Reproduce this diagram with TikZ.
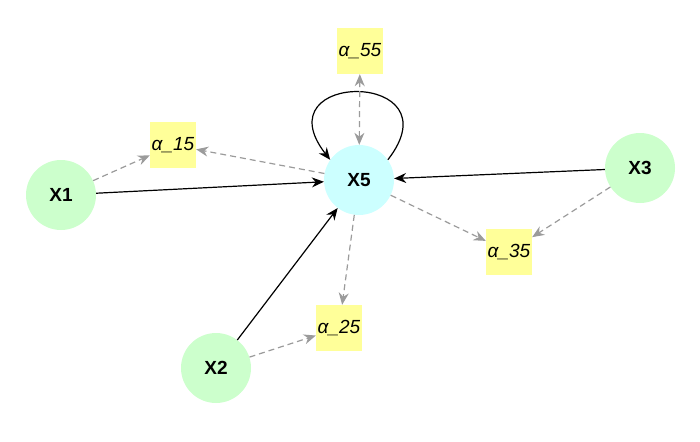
\documentclass[tikz,border=0pt]{standalone}
\usepackage{fontspec}
\setmainfont{Liberation Sans}
\usetikzlibrary{arrows.meta}

\definecolor{obsgreen}{RGB}{204,255,204}
\definecolor{latcyan}{RGB}{204,255,255}
\definecolor{paryellow}{RGB}{255,255,153}
\definecolor{resgray}{RGB}{155,155,155}

\begin{document}
\begin{tikzpicture}[x=1pt, y=-1pt,
        var/.style={circle, minimum size=70pt, inner sep=0pt, font=\fontsize{19}{22}\selectfont\bfseries},
        param/.style={rectangle, fill=paryellow, minimum size=46pt, inner sep=0pt, font=\fontsize{19}{22}\selectfont\itshape},
        regr/.style={-{Stealth[length=12pt, width=10pt]}, line width=1.2pt, black},
        coef/.style={-{Stealth[length=12pt, width=10pt]}, line width=1.2pt, resgray, dash pattern=on 6pt off 4pt}]

        % (x, y): x to the right, y downwards, in pixels of the reference
        \useasboundingbox (0, 0) rectangle (700, 441);

        % variables
        \node[var, fill=obsgreen] (x1) at (61, 195) {X1};
        \node[var, fill=obsgreen] (x2) at (216, 368) {X2};
        \node[var, fill=obsgreen] (x3) at (640, 168) {X3};
        \node[var, fill=latcyan] (x5) at (359, 180) {X5};

        % coefficients
        \node[param] (a15) at (173, 145) {α\_15};
        \node[param] (a55) at (360, 51) {α\_55};
        \node[param] (a25) at (339, 328) {α\_25};
        \node[param] (a35) at (509, 252) {α\_35};

        % regressions into X5
        \draw[regr] (x1) -- (x5);
        \draw[regr] (x2) -- (x5);
        \draw[regr] (x3) -- (x5);
        \draw[regr] (x5.35) .. controls +(70, -90) and +(-70, -90) .. (x5.145);

        % dashed links to the coefficients
        \draw[coef] (x1) -- (a15);
        \draw[coef] (x5) -- (a15);
        \draw[coef, {Stealth[length=12pt, width=10pt]}-{Stealth[length=12pt, width=10pt]}] (x5) -- (a55);
        \draw[coef] (x2) -- (a25);
        \draw[coef] (x5) -- (a25);
        \draw[coef] (x3) -- (a35);
        \draw[coef] (x5) -- (a35);

    \end{tikzpicture}
\end{document}
